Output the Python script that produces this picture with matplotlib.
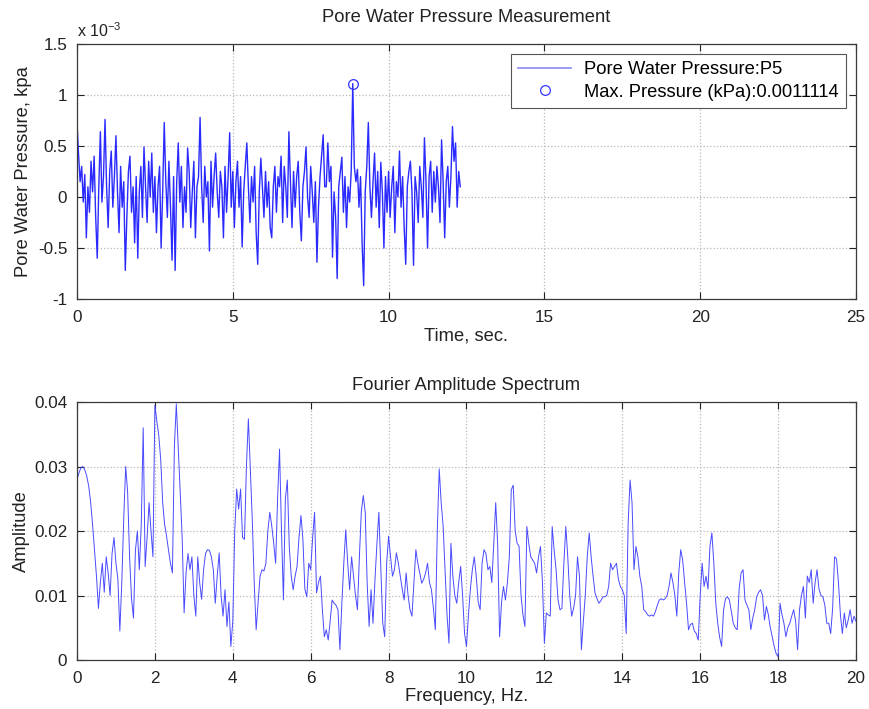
import numpy as np
import matplotlib
matplotlib.use("Agg")
import matplotlib.pyplot as plt
from matplotlib.ticker import FuncFormatter

# pore water pressure readings, units of 1e-3 kPa, sampled every 0.05 s
dt = 0.05
pressure = [
    0.73, 0.42, 0.15, 0.30, -0.05, 0.22, -0.40, 0.10, -0.15, 0.35,
    0.05, 0.40, -0.20, -0.60, 0.10, 0.64, -0.05, 0.20, 0.76, 0.10,
    -0.30, 0.25, 0.45, -0.10, 0.20, 0.60, 0.05, -0.35, 0.30, -0.10,
    0.15, -0.72, -0.20, 0.25, 0.40, -0.15, 0.10, -0.45, 0.20, -0.60,
    0.05, 0.30, -0.20, 0.49, 0.10, -0.25, 0.35, 0.00, 0.43, -0.15,
    0.20, -0.35, 0.10, 0.30, -0.50, 0.05, 0.73, 0.15, -0.20, 0.35,
    -0.10, -0.62, 0.20, -0.72, 0.15, 0.53, -0.05, 0.30, -0.30, 0.10,
    -0.15, 0.48, 0.25, -0.30, 0.05, 0.35, -0.40, 0.10, 0.20, 0.78,
    0.10, -0.25, 0.30, 0.00, 0.15, -0.53, 0.35, -0.10, 0.20, 0.43,
    0.05, -0.20, 0.25, 0.10, -0.40, 0.30, -0.15, 0.20, 0.63, -0.10,
    0.25, -0.30, 0.15, 0.35, -0.10, 0.20, -0.49, 0.05, 0.30, 0.53,
    0.10, -0.25, 0.20, -0.05, 0.30, -0.35, -0.66, 0.05, 0.38, 0.10,
    -0.20, 0.25, -0.10, 0.15, -0.30, -0.40, 0.10, 0.30, -0.15, 0.20,
    0.10, 0.40, -0.25, 0.30, 0.10, -0.20, 0.64, 0.15, -0.30, 0.25,
    -0.10, 0.20, 0.35, -0.15, -0.43, 0.10, 0.25, 0.49, 0.00, -0.20,
    0.30, 0.05, -0.25, 0.15, -0.64, -0.10, 0.20, 0.40, 0.61, 0.10,
    0.10, 0.53, 0.15, 0.30, -0.59, 0.05, -0.20, -0.80, 0.10, 0.25,
    0.39, -0.15, 0.20, -0.30, 0.10, -0.05, 0.25, 1.1114, 0.30, 0.15,
    0.27, -0.10, 0.20, -0.45, -0.87, 0.05, 0.30, 0.73, 0.10, -0.20,
    0.15, 0.43, -0.10, 0.25, -0.30, 0.34, 0.05, -0.50, 0.20, -0.15,
    0.25, -0.20, 0.10, 0.30, -0.35, 0.15, 0.00, 0.45, -0.10, 0.20,
    -0.30, -0.66, 0.10, 0.25, 0.35, 0.05, -0.67, 0.20, 0.05, -0.25,
    0.30, 0.10, -0.20, 0.58, 0.15, -0.50, 0.20, 0.35, -0.15, 0.25,
    -0.05, 0.30, 0.10, -0.25, 0.56, 0.15, -0.40, 0.15, 0.30, -0.10,
    0.20, 0.69, 0.35, 0.53, -0.10, 0.25, 0.10,
]

# fourier amplitude, every 0.05 Hz from 0 to 20 Hz
df = 0.05
amplitude = [
    0.0280, 0.0290, 0.0298, 0.0300, 0.0295, 0.0285, 0.0270, 0.0245, 0.0210, 0.0170,
    0.0130, 0.0080, 0.0120, 0.0150, 0.0105, 0.0160, 0.0135, 0.0100, 0.0165, 0.0190,
    0.0150, 0.0125, 0.0045, 0.0120, 0.0220, 0.0300, 0.0260, 0.0160, 0.0095, 0.0065,
    0.0170, 0.0200, 0.0140, 0.0210, 0.0360, 0.0145, 0.0190, 0.0244, 0.0200, 0.0160,
    0.0395, 0.0370, 0.0348, 0.0310, 0.0244, 0.0210, 0.0192, 0.0170, 0.0150, 0.0135,
    0.0330, 0.0397, 0.0330, 0.0260, 0.0190, 0.0073, 0.0135, 0.0165, 0.0140, 0.0160,
    0.0100, 0.0068, 0.0160, 0.0120, 0.0094, 0.0140, 0.0165, 0.0171, 0.0170, 0.0160,
    0.0140, 0.0088, 0.0130, 0.0166, 0.0100, 0.0068, 0.0109, 0.0052, 0.0090, 0.0021,
    0.0060, 0.0200, 0.0265, 0.0234, 0.0265, 0.0190, 0.0187, 0.0300, 0.0374, 0.0296,
    0.0218, 0.0120, 0.0047, 0.0090, 0.0130, 0.0140, 0.0138, 0.0150, 0.0200, 0.0229,
    0.0208, 0.0181, 0.0150, 0.0250, 0.0327, 0.0200, 0.0093, 0.0250, 0.0279, 0.0176,
    0.0130, 0.0109, 0.0130, 0.0145, 0.0190, 0.0224, 0.0187, 0.0110, 0.0098, 0.0150,
    0.0140, 0.0190, 0.0229, 0.0104, 0.0120, 0.0130, 0.0078, 0.0036, 0.0047, 0.0031,
    0.0060, 0.0093, 0.0088, 0.0085, 0.0078, 0.0016, 0.0088, 0.0150, 0.0202, 0.0150,
    0.0109, 0.0160, 0.0130, 0.0100, 0.0078, 0.0160, 0.0230, 0.0255, 0.0229, 0.0119,
    0.0052, 0.0109, 0.0057, 0.0124, 0.0180, 0.0229, 0.0145, 0.0057, 0.0036, 0.0150,
    0.0192, 0.0160, 0.0130, 0.0140, 0.0166, 0.0150, 0.0130, 0.0110, 0.0093, 0.0135,
    0.0100, 0.0078, 0.0068, 0.0120, 0.0171, 0.0150, 0.0135, 0.0119, 0.0125, 0.0135,
    0.0150, 0.0120, 0.0109, 0.0080, 0.0047, 0.0200, 0.0296, 0.0244, 0.0208, 0.0140,
    0.0070, 0.0026, 0.0181, 0.0130, 0.0100, 0.0088, 0.0120, 0.0145, 0.0100, 0.0041,
    0.0021, 0.0070, 0.0110, 0.0140, 0.0160, 0.0130, 0.0090, 0.0078, 0.0150, 0.0171,
    0.0165, 0.0140, 0.0145, 0.0120, 0.0180, 0.0244, 0.0180, 0.0036, 0.0090, 0.0114,
    0.0093, 0.0120, 0.0160, 0.0264, 0.0271, 0.0200, 0.0181, 0.0176, 0.0100, 0.0070,
    0.0052, 0.0207, 0.0180, 0.0160, 0.0155, 0.0150, 0.0135, 0.0160, 0.0176, 0.0120,
    0.0026, 0.0073, 0.0070, 0.0068, 0.0207, 0.0170, 0.0140, 0.0093, 0.0078, 0.0080,
    0.0150, 0.0207, 0.0160, 0.0100, 0.0068, 0.0080, 0.0100, 0.0160, 0.0130, 0.0016,
    0.0060, 0.0100, 0.0160, 0.0197, 0.0160, 0.0130, 0.0104, 0.0095, 0.0088, 0.0092,
    0.0098, 0.0098, 0.0100, 0.0114, 0.0150, 0.0140, 0.0145, 0.0150, 0.0125, 0.0114,
    0.0109, 0.0100, 0.0041, 0.0212, 0.0279, 0.0244, 0.0140, 0.0176, 0.0160, 0.0130,
    0.0114, 0.0078, 0.0075, 0.0070, 0.0068, 0.0070, 0.0068, 0.0075, 0.0085, 0.0093,
    0.0095, 0.0093, 0.0095, 0.0100, 0.0114, 0.0135, 0.0120, 0.0100, 0.0068, 0.0135,
    0.0171, 0.0155, 0.0120, 0.0088, 0.0047, 0.0055, 0.0057, 0.0045, 0.0041, 0.0031,
    0.0100, 0.0150, 0.0114, 0.0130, 0.0110, 0.0176, 0.0197, 0.0150, 0.0088, 0.0057,
    0.0035, 0.0021, 0.0078, 0.0095, 0.0098, 0.0093, 0.0075, 0.0057, 0.0050, 0.0047,
    0.0110, 0.0135, 0.0140, 0.0093, 0.0085, 0.0078, 0.0047, 0.0065, 0.0078, 0.0098,
    0.0105, 0.0109, 0.0100, 0.0062, 0.0083, 0.0070, 0.0050, 0.0036, 0.0021, 0.0010,
    0.0005, 0.0088, 0.0070, 0.0057, 0.0036, 0.0050, 0.0057, 0.0068, 0.0078, 0.0060,
    0.0016, 0.0078, 0.0100, 0.0114, 0.0065, 0.0130, 0.0120, 0.0140, 0.0088, 0.0120,
    0.0140, 0.0110, 0.0100, 0.0098, 0.0085, 0.0057, 0.0057, 0.0041, 0.0080, 0.0160,
    0.0157, 0.0120, 0.0070, 0.0041, 0.0073, 0.0050, 0.0062, 0.0078, 0.0057, 0.0068,
    0.0060,
]

plt.rcParams['font.family'] = ['Liberation Sans', 'DejaVu Sans']
plt.rcParams['axes.unicode_minus'] = False
plt.rcParams['mathtext.fontset'] = 'custom'
plt.rcParams['mathtext.rm'] = 'Liberation Sans'

fs = 13.2
tfs = 12.3
edge = '#3a3a3a'
gridc = '#b8b8b8'
txt = '#222222'

time = np.arange(len(pressure)) * dt
p_kpa = np.array(pressure) * 1e-3
freq = np.arange(len(amplitude)) * df

imax = int(np.argmax(p_kpa))
pmax = p_kpa[imax]

fig = plt.figure(figsize=(8.7, 7.09), dpi=100)
ax1 = fig.add_axes([0.0885, 0.5783, 0.8954, 0.3597])
ax2 = fig.add_axes([0.0885, 0.0691, 0.8954, 0.3639])

# top: time history
ax1.plot(time, p_kpa, color='#2a2aff', lw=1.0, label='Pore Water Pressure:P5')
ax1.plot(time[imax], pmax, 'o', mfc='none', mec='#3333ff', ms=7, mew=0.9,
         label='Max. Pressure (kPa):%.5g' % pmax)
ax1.set_xlim(0, 25)
ax1.set_ylim(-1e-3, 1.5e-3)
ax1.set_xticks(np.arange(0, 26, 5))
ax1.set_yticks(np.arange(-1, 1.51, 0.5) * 1e-3)
ax1.yaxis.set_major_formatter(FuncFormatter(lambda v, p: '%g' % round(v * 1e3, 2)))
ax1.text(0.0, 1.015, r'x 10$^{-3}$', transform=ax1.transAxes, fontsize=tfs - 0.8,
         ha='left', va='bottom', color=txt)
ax1.set_title('Pore Water Pressure Measurement', fontsize=fs, color=txt, pad=16)
ax1.set_xlabel('Time, sec.', fontsize=fs, color=txt, labelpad=2)
ax1.set_ylabel('Pore Water Pressure, kpa', fontsize=fs, color=txt, labelpad=4)
leg = ax1.legend(loc='upper right', fontsize=fs, fancybox=False, framealpha=1,
                 edgecolor='#555555', borderaxespad=0.55, handlelength=2.9,
                 labelspacing=0.3, borderpad=0.4, handletextpad=0.7)
leg.get_frame().set_linewidth(0.8)
leg.get_lines()[0].set_color('#8a8af0')
leg.get_lines()[0].set_linewidth(1.2)

# bottom: spectrum
ax2.plot(freq, amplitude, color='#4a4aff', lw=0.7)
ax2.set_xlim(0, 20)
ax2.set_ylim(0, 0.04)
ax2.set_xticks(np.arange(0, 21, 2))
ax2.set_yticks([0, 0.01, 0.02, 0.03, 0.04])
ax2.yaxis.set_major_formatter(FuncFormatter(lambda v, p: '%g' % round(v, 3)))
ax2.set_title('Fourier Amplitude Spectrum', fontsize=fs, color=txt, pad=9)
ax2.set_xlabel('Frequency, Hz.', fontsize=fs, color=txt, labelpad=1)
ax2.set_ylabel('Amplitude', fontsize=fs, color=txt, labelpad=3)

for ax in (ax1, ax2):
    ax.grid(True, color=gridc, linestyle=':', linewidth=0.9)
    ax.set_axisbelow(True)
    ax.tick_params(direction='in', top=True, right=True, labelsize=tfs,
                   colors=txt, length=5, width=0.8)
    ax.tick_params(axis='x', pad=8)
    ax.tick_params(axis='y', pad=7)
    for s in ax.spines.values():
        s.set_color(edge)
        s.set_linewidth(0.9)

fig.savefig('out.png', dpi=100)
